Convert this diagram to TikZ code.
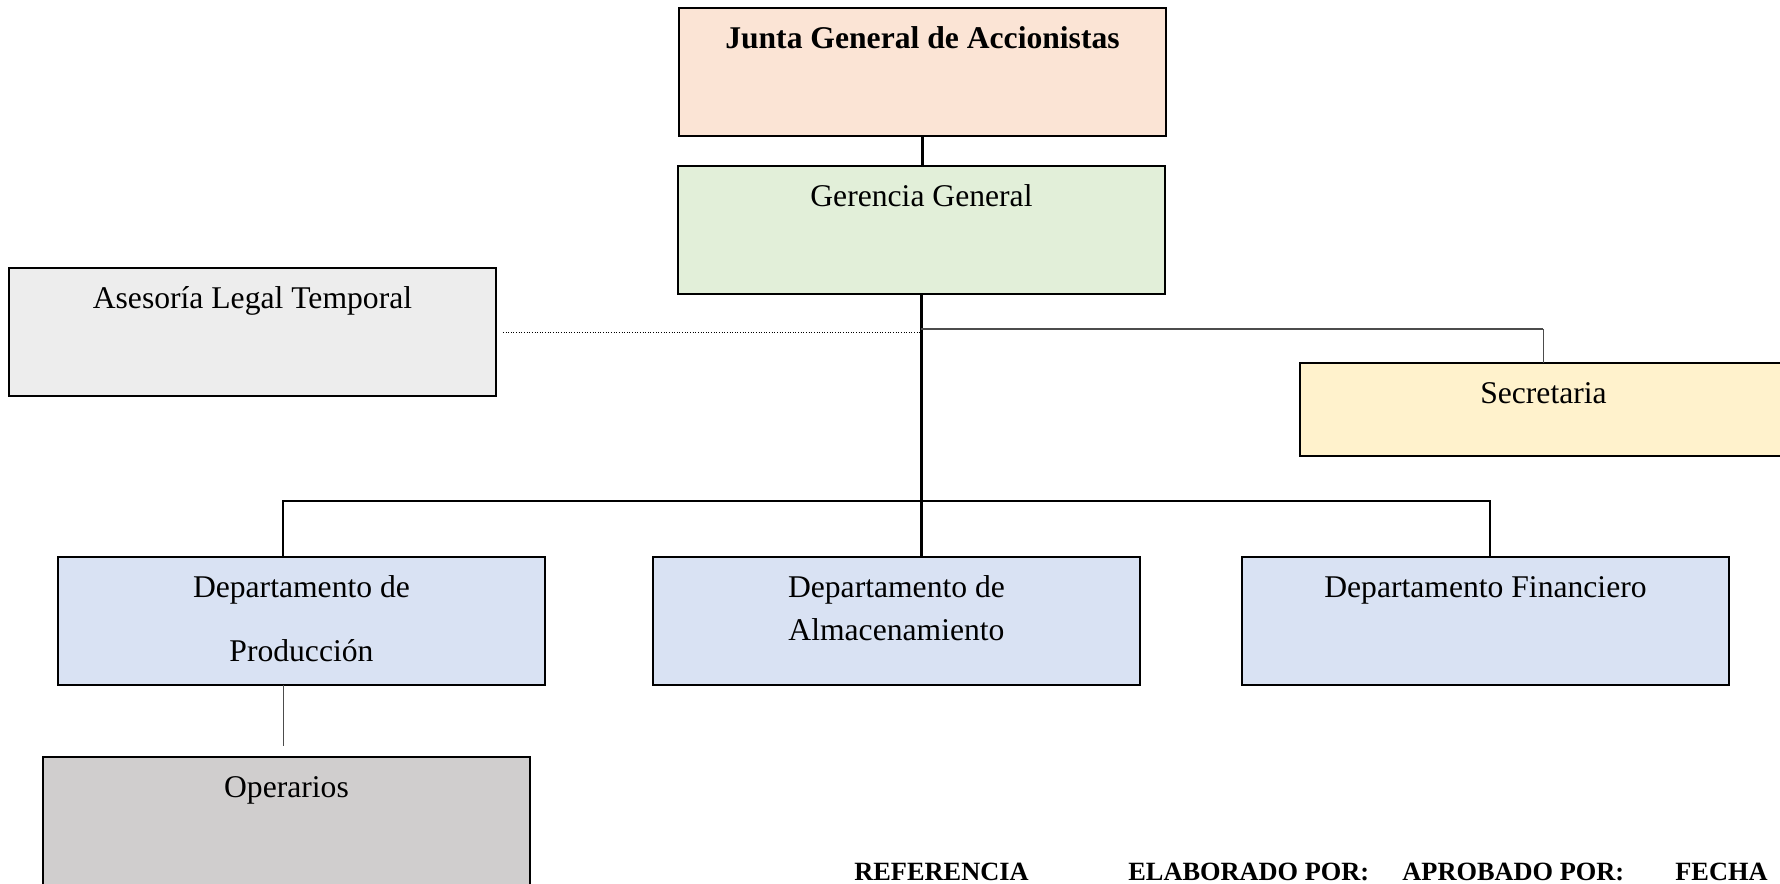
\documentclass[tikz,border=0pt]{standalone}
\usepackage{fontspec}
\setmainfont{Liberation Serif}
\usepackage{tikz}
\usetikzlibrary{positioning}
\definecolor{JuntaPeach}{HTML}{FBE4D5}
\definecolor{GerenciaGreen}{HTML}{E2EFD9}
\definecolor{AsesoriaGray}{HTML}{EDEDED}
\definecolor{SecretariaYellow}{HTML}{FFF2CC}
\definecolor{DeptoBlue}{HTML}{D9E2F3}
\definecolor{OperariosGray}{HTML}{D0CECE}

\begin{document}
\begin{tikzpicture}[x=0.02cm, y=-0.02cm,
	unit/.style={draw, line width=1.1pt, anchor=north west, inner sep=0pt, outer sep=0pt, minimum width=9.74cm, minimum height=2.56cm},
	caption/.style={anchor=base, yshift=-0.82cm, align=center, inner sep=0pt, font=\fontsize{18}{24}\selectfont},
	link/.style={line width=1.4pt},
	thinlink/.style={line width=0.5pt, black!70},
	footer/.style={anchor=base west, inner sep=0pt, font=\fontsize{15}{18}\selectfont\bfseries}]
	
	\useasboundingbox (0,0) rectangle (1780,884);
	\clip (0,0) rectangle (1780,884);
	
	\node[unit, fill=JuntaPeach, label={[caption]north:{\textbf{Junta General de Accionistas}}}] (junta) at (679,8) {};
	\node[unit, fill=GerenciaGreen, label={[caption]north:{Gerencia General}}] (gerencia) at (678,166) {};
	\node[unit, fill=AsesoriaGray, label={[caption]north:{Asesoría Legal Temporal}}] (asesoria) at (9,268) {};
	\node[unit, fill=SecretariaYellow, minimum height=1.86cm, label={[caption]north:{Secretaria}}] (secretaria) at (1300,363) {};
	
	% base of a two-line label is its last line
	\node[unit, fill=DeptoBlue, label={[caption, yshift=-36pt]north:{Departamento de\\[12pt]Producción}}] (produccion) at (58,557) {};
	\node[unit, fill=DeptoBlue, label={[caption, yshift=-24pt]north:{Departamento de\\Almacenamiento}}] (almacen) at (653,557) {};
	\node[unit, fill=DeptoBlue, label={[caption]north:{Departamento Financiero}}] (finanzas) at (1242,557) {};
	\node[unit, fill=OperariosGray, label={[caption]north:{Operarios}}] (operarios) at (43,757) {};
	
	\coordinate (busL) at (283,501);
	\coordinate (busR) at (1490,501);
	\coordinate (opEnd) at (283,746); % line stops short of Operarios
	\coordinate (secBend) at (secretaria.north |- 0,329);
	
	\draw[link] (junta.south) -- (junta.south |- gerencia.north);
	\draw[link] (gerencia.south) -- (gerencia.south |- almacen.north);
	\draw[link] (busL |- produccion.north) -- (busL) -- (busR) -- (busR |- finanzas.north);
	
	\draw[densely dotted, line width=0.5pt, shorten <=0.14cm] (asesoria.east) -- (gerencia.south |- asesoria.east);
	\draw[black!70, line width=1pt] (gerencia.south |- secBend) -- (secBend);
	\draw[thinlink] (secBend) -- (secretaria.north);
	\draw[thinlink] (busL |- produccion.south) -- (opEnd);
	
	\node[footer] (referencia) at (854,880) {REFERENCIA};
	\node[footer] (elaborado) at (1128,880) {ELABORADO POR:};
	\node[footer] (aprobado) at (1402,880) {APROBADO POR:};
	\node[footer] (fecha) at (1675,880) {FECHA};
\end{tikzpicture}
\end{document}
